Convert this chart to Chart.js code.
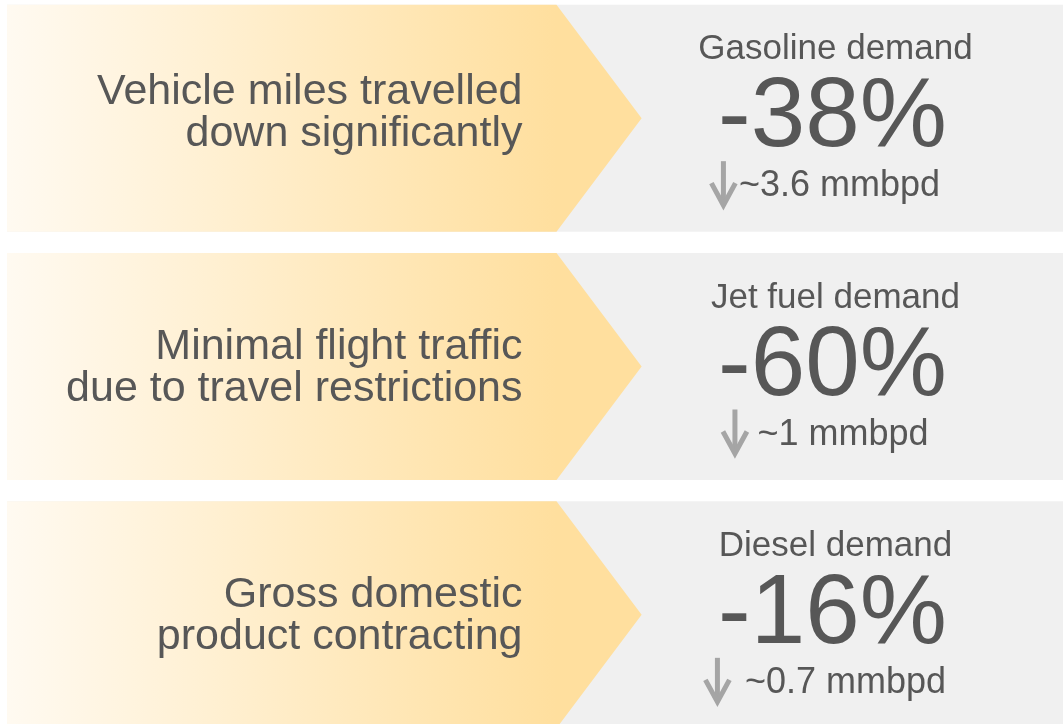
<!DOCTYPE html>
<html>
<head>
<meta charset="utf-8">
<script src="https://cdn.jsdelivr.net/npm/chart.js@4/dist/chart.umd.min.js"></script>
<style>
  html, body { margin: 0; padding: 0; background: #ffffff; overflow: hidden; }
  #cadre { position: absolute; left: 7px; top: -6px; width: 1056px; height: 745px; }
</style>
</head>
<body>
<div id="cadre"><canvas id="graphique"></canvas></div>
<script>
// Données
const legendes = [
    ['Vehicle miles travelled', 'down significantly'],
    ['Minimal flight traffic', 'due to travel restrictions'],
    ['Gross domestic', 'product contracting']
];
const carburants = ['Gasoline demand', 'Jet fuel demand', 'Diesel demand'];
const variationDemande = [-38, -60, -16];      // en %
const baisseVolume = [3.6, 1, 0.7];            // mmbpd
const portéeFleche = [60.1, 60.1, 60.1];       // pointe de la flèche (échelle 0-100)
const portéePanneau = [100, 100, 100];         // fond gris

const POLICE = "'Liberation Sans', Arial, sans-serif";
const COULEUR_TEXTE = '#575757';

// Dessin des flèches en dégradé à partir des barres du jeu 0
const pluginInfographie = {
    id: 'infographie',
    beforeDatasetDraw(chart, args) {
        if (args.index !== 0) return;
        const ctx = chart.ctx;
        args.meta.data.forEach(barre => {
            const { x, y, base, height } = barre.getProps(['x', 'y', 'base', 'height'], true);
            const haut = y - height / 2, bas = y + height / 2;
            const finCorps = x - height * 0.375;
            const degrade = ctx.createLinearGradient(base, 0, finCorps, 0);
            degrade.addColorStop(0, '#fffaf1');
            degrade.addColorStop(1, '#ffdf9e');
            ctx.save();
            ctx.beginPath();
            ctx.moveTo(base, haut);
            ctx.lineTo(finCorps, haut);
            ctx.lineTo(x, y);
            ctx.lineTo(finCorps, bas);
            ctx.lineTo(base, bas);
            ctx.closePath();
            ctx.fillStyle = degrade;
            ctx.fill();
            ctx.restore();
        });
        return false;
    },
    afterDatasetsDraw(chart) {
        const ctx = chart.ctx;
        const droite = chart.chartArea.right;
        const decalage = [-6, 0, 0];
        const espaces = [3, 10, 15];
        chart.getDatasetMeta(0).data.forEach((barre, i) => {
            const { x, y, height } = barre.getProps(['x', 'y', 'height'], true);
            const finCorps = x - height * 0.375;
            ctx.save();
            ctx.fillStyle = COULEUR_TEXTE;

            // texte de gauche
            ctx.font = '43px ' + POLICE;
            ctx.textAlign = 'right';
            ctx.textBaseline = 'alphabetic';
            const xg = finCorps - 34;
            ctx.fillText(legendes[i][0], xg, y - 8 + decalage[i]);
            ctx.fillText(legendes[i][1], xg, y + 34 + decalage[i]);

            // bloc de droite
            const centre = x + (droite - x) * 0.46;
            ctx.textAlign = 'center';
            ctx.font = '35px ' + POLICE;
            ctx.fillText(carburants[i], centre, y - 59);
            ctx.font = '98px ' + POLICE;
            ctx.fillText(variationDemande[i] + '%', centre - 3, y + 28);

            // flèche vers le bas + volume
            ctx.font = '36px ' + POLICE;
            const texte = '~' + baisseVolume[i] + ' mmbpd';
            const largeur = ctx.measureText(texte).width;
            const total = 25 + espaces[i] + largeur;
            const debut = centre - 10 - total / 2;
            const cx = debut + 12.5;
            ctx.strokeStyle = '#a5a5a5';
            ctx.lineWidth = 5;
            ctx.lineCap = 'butt';
            ctx.beginPath();
            ctx.moveTo(cx, y + 43);
            ctx.lineTo(cx, y + 86);
            ctx.stroke();
            ctx.beginPath();
            ctx.moveTo(cx - 12, y + 65);
            ctx.lineTo(cx, y + 87);
            ctx.lineTo(cx + 12, y + 65);
            ctx.stroke();
            ctx.textAlign = 'left';
            ctx.fillText(texte, debut + 25 + espaces[i], y + 78);
            ctx.restore();
        });
    }
};

new Chart(document.getElementById('graphique'), {
    type: 'bar',
    data: {
        labels: carburants,
        datasets: [
            {
                label: 'Flèche',
                data: portéeFleche.map(v => [0, v]),
                backgroundColor: '#ffdf9e',
                grouped: false,
                order: 0
            },
            {
                label: 'Panneau',
                data: portéePanneau.map(v => [0, v]),
                backgroundColor: '#f0f0f0',
                grouped: false,
                order: 1
            }
        ]
    },
    options: {
        indexAxis: 'y',
        responsive: true,
        maintainAspectRatio: false,
        animation: false,
        layout: { padding: 0 },
        barPercentage: 1,
        categoryPercentage: 227 / 248.33,
        scales: {
            x: { display: false, min: 0, max: 100 },
            y: { display: false }
        },
        plugins: {
            legend: { display: false },
            tooltip: { enabled: false }
        }
    },
    plugins: [pluginInfographie]
});
</script>
</body>
</html>
